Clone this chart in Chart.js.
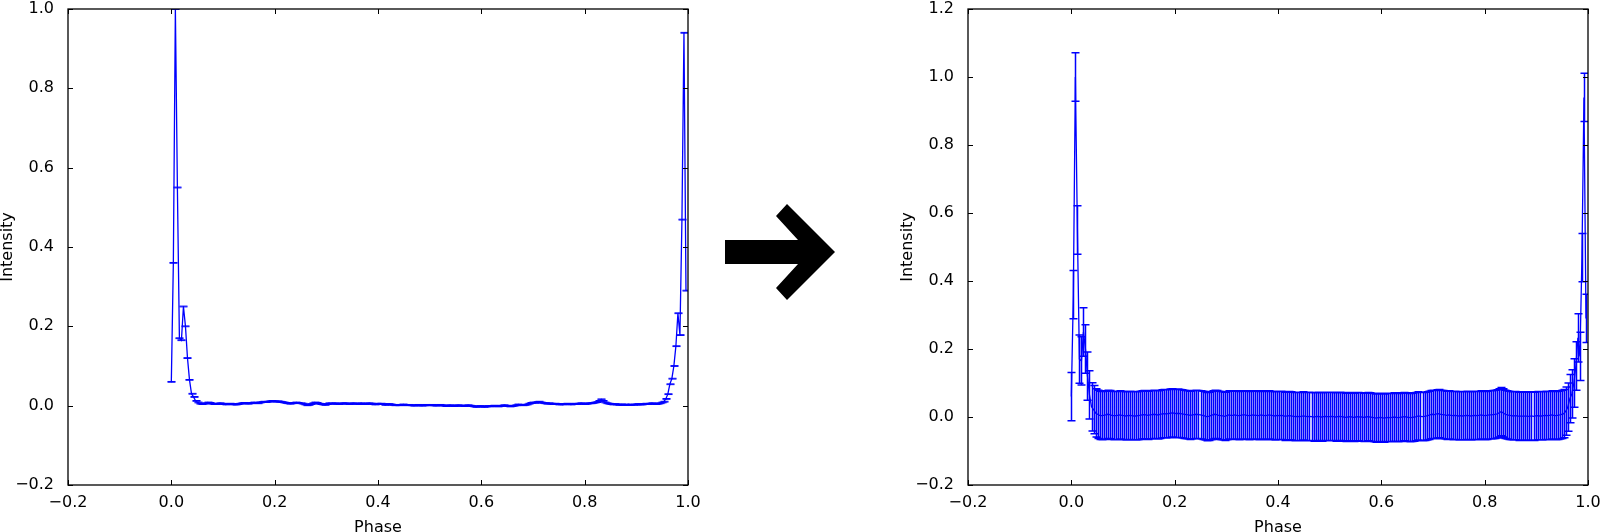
<!DOCTYPE html>
<html>
<head>
<meta charset="utf-8">
<script src="https://cdn.jsdelivr.net/npm/chart.js@4/dist/chart.umd.min.js"></script>
<style>
  html, body { margin: 0; padding: 0; background: #fff; }
  #wrap { position: relative; width: 1600px; height: 532px; overflow: hidden; }
  #left { position: absolute; left: 0; top: 0; }
  #right { position: absolute; left: 880px; top: 0; }
  #arrow { position: absolute; left: 0; top: 0; }
</style>
</head>
<body>
<div id="wrap">
  <canvas id="left" width="700" height="532"></canvas>
  <svg id="arrow" width="1600" height="532">
    <polygon points="725,240 798,240 776,216 787,204 835,252 787,300 776,288 798,264 725,264" fill="#000"/>
  </svg>
  <canvas id="right" width="720" height="532"></canvas>
</div>
<script>
// pulse profile, 256 phase bins
const nBins = 256;
const phase = Array.from({ length: nBins }, (_, i) => i / nBins);

const intensity = [
  0.06, 0.36, 1.0, 0.55, 0.17, 0.165, 0.25, 0.20, 0.12, 0.065, 0.03, 0.022, 0.012, 0.008, 0.005, 0.004,
  0.005, 0.006, 0.008, 0.007, 0.005, 0.004, 0.004, 0.005, 0.006, 0.005, 0.004, 0.003, 0.004, 0.005, 0.004, 0.003,
  0.003, 0.004, 0.005, 0.006, 0.007, 0.006, 0.005, 0.006, 0.007, 0.008, 0.007, 0.006, 0.008, 0.009, 0.010, 0.009,
  0.010, 0.011, 0.012, 0.011, 0.010, 0.011, 0.010, 0.009, 0.008, 0.007, 0.006, 0.005, 0.006, 0.007, 0.008, 0.007,
  0.006, 0.005, 0.003, 0.001, 0.002, 0.004, 0.006, 0.008, 0.007, 0.005, 0.004, 0.003, 0.002, 0.004, 0.006, 0.005,
  0.005, 0.006, 0.005, 0.004, 0.005, 0.006, 0.006, 0.005, 0.004, 0.005, 0.006, 0.005, 0.005, 0.004, 0.006, 0.005,
  0.004, 0.005, 0.006, 0.005, 0.004, 0.003, 0.005, 0.004, 0.005, 0.004, 0.002, 0.003, 0.004, 0.003, 0.002, 0.001,
  0.002, 0.001, 0.002, 0.003, 0.002, 0.001, 0.002, 0.001, 0.000, 0.001, 0.002, 0.001, 0.000, 0.001, 0.002, 0.001,
  0.001, 0.002, 0.001, 0.000, 0.001, 0.002, 0.001, 0.000, -0.001, 0.000, 0.001, 0.000, -0.001, 0.000, 0.001, 0.000,
  0.000, -0.001, 0.000, 0.001, 0.000, -0.001, -0.002, -0.003, -0.002, -0.001, -0.002, -0.003, -0.002, -0.001, -0.002, -0.001,
  0.000, -0.001, -0.002, -0.001, 0.000, 0.001, 0.000, -0.001, -0.002, -0.001, 0.000, 0.001, 0.003, 0.002, 0.001, 0.002,
  0.003, 0.005, 0.007, 0.008, 0.007, 0.009, 0.010, 0.008, 0.007, 0.006, 0.005, 0.006, 0.005, 0.004, 0.005, 0.004,
  0.003, 0.004, 0.003, 0.004, 0.005, 0.004, 0.003, 0.004, 0.005, 0.004, 0.005, 0.006, 0.005, 0.004, 0.005, 0.006,
  0.006, 0.007, 0.008, 0.009, 0.012, 0.016, 0.012, 0.008, 0.006, 0.005, 0.004, 0.003, 0.004, 0.003, 0.002, 0.003,
  0.002, 0.003, 0.002, 0.002, 0.003, 0.002, 0.003, 0.004, 0.003, 0.003, 0.004, 0.005, 0.004, 0.005, 0.006, 0.005,
  0.004, 0.005, 0.006, 0.008, 0.010, 0.017, 0.029, 0.054, 0.068, 0.10, 0.15, 0.233, 0.178, 0.469, 0.94, 0.29
];

// error bar half-sizes: before (left) and after (right)
const errBefore = 0.001;
const errAfter = 0.071;

const xTicks = [-0.2, 0.0, 0.2, 0.4, 0.6, 0.8, 1.0];
const yTicksLeft = [-0.2, 0.0, 0.2, 0.4, 0.6, 0.8, 1.0];
const yTicksRight = [-0.2, 0.0, 0.2, 0.4, 0.6, 0.8, 1.0, 1.2];

const BLUE = '#0000ff';
const FONT = { family: 'DejaVu Sans', size: 16 };

function fmt(v) {
  if (Math.abs(v) < 1e-9) return '0.0';
  return v.toFixed(1).replace('-', '\u2212');
}

// error bars drawn through the chart scales
const errorBars = {
  id: 'errorBars',
  afterDatasetsDraw(chart, args, opts) {
    const { ctx, chartArea: a, scales: { x, y } } = chart;
    ctx.save();
    ctx.beginPath();
    ctx.rect(a.left, a.top, a.right - a.left, a.bottom - a.top);
    ctx.clip();
    ctx.strokeStyle = BLUE;
    ctx.lineWidth = opts.width;
    ctx.beginPath();
    phase.forEach((p, i) => {
      const px = Math.round(x.getPixelForValue(p)) + 0.5;
      const lo = y.getPixelForValue(intensity[i] - opts.err);
      const hi = y.getPixelForValue(intensity[i] + opts.err);
      ctx.moveTo(px, lo); ctx.lineTo(px, hi);
      ctx.moveTo(px - 4, lo); ctx.lineTo(px + 4, lo);
      ctx.moveTo(px - 4, hi); ctx.lineTo(px + 4, hi);
    });
    ctx.stroke();
    ctx.restore();
  }
};

// matplotlib-like frame with inward ticks on all four sides
const frame = {
  id: 'frame',
  afterDraw(chart) {
    const { ctx, chartArea: a, scales: { x, y } } = chart;
    ctx.save();
    ctx.strokeStyle = '#000';
    ctx.lineWidth = 1;
    ctx.beginPath();
    x.ticks.forEach(t => {
      const px = Math.round(x.getPixelForValue(t.value)) + 0.5;
      ctx.moveTo(px, a.bottom); ctx.lineTo(px, a.bottom - 5);
      ctx.moveTo(px, a.top); ctx.lineTo(px, a.top + 5);
    });
    y.ticks.forEach(t => {
      const py = Math.round(y.getPixelForValue(t.value)) + 0.5;
      ctx.moveTo(a.left, py); ctx.lineTo(a.left + 5, py);
      ctx.moveTo(a.right, py); ctx.lineTo(a.right - 5, py);
    });
    ctx.stroke();
    ctx.lineWidth = 1.3;
    ctx.strokeRect(a.left, a.top, a.right - a.left, a.bottom - a.top);
    ctx.restore();
  }
};

function makeChart(id, err, barWidth, yTicks, yWidth, rightPad, titlePad) {
  return new Chart(document.getElementById(id), {
    type: 'line',
    data: {
      datasets: [{
        data: phase.map((p, i) => ({ x: p, y: intensity[i] })),
        borderColor: BLUE,
        borderWidth: 1.3,
        pointRadius: 0,
        tension: 0,
        fill: false
      }]
    },
    options: {
      responsive: false,
      animation: false,
      devicePixelRatio: 1,
      layout: { padding: { top: 9, right: rightPad, left: 0, bottom: 0 } },
      plugins: {
        legend: { display: false },
        tooltip: { enabled: false },
        errorBars: { err: err, width: barWidth }
      },
      scales: {
        x: {
          type: 'linear',
          min: xTicks[0],
          max: xTicks[xTicks.length - 1],
          afterBuildTicks: s => { s.ticks = xTicks.map(v => ({ value: v })); },
          afterFit: s => { s.height = 47; s.paddingLeft = 0; s.paddingRight = 0; },
          grid: { display: false },
          border: { display: false },
          ticks: { color: '#000', font: FONT, padding: 0, maxRotation: 0, callback: fmt },
          title: { display: true, text: 'Phase', color: '#000', font: { ...FONT, lineHeight: 0.5 }, padding: { top: 0, bottom: 0 } }
        },
        y: {
          type: 'linear',
          min: yTicks[0],
          max: yTicks[yTicks.length - 1],
          afterBuildTicks: s => { s.ticks = yTicks.map(v => ({ value: v })); },
          afterFit: s => { s.width = yWidth; s.paddingTop = 0; s.paddingBottom = 0; },
          grid: { display: false },
          border: { display: false },
          ticks: { color: '#000', font: FONT, padding: 6, callback: fmt },
          title: { display: true, text: 'Intensity', color: '#000', font: { ...FONT, lineHeight: 1 }, padding: { top: titlePad, bottom: 0 } }
        }
      }
    },
    plugins: [errorBars, frame]
  });
}

makeChart('left', errBefore, 1, yTicksLeft, 68, 12, 0);
makeChart('right', errAfter, 1.5, yTicksRight, 88, 12, 20);
</script>
</body>
</html>
